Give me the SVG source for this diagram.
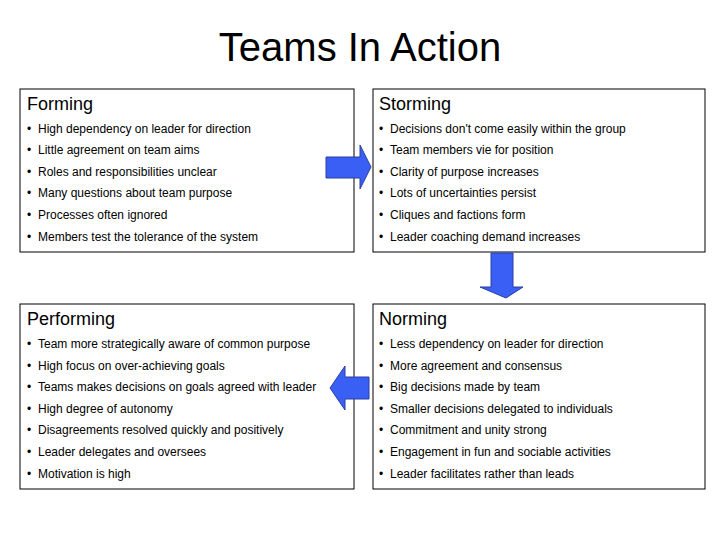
<svg xmlns="http://www.w3.org/2000/svg" width="720" height="540" viewBox="0 0 720 540">
<style>
.box{fill:#fff;stroke:#000;stroke-width:1}
.h{font-family:"Liberation Sans",Arial,sans-serif;font-size:18px;fill:#000}
.t{font-family:"Liberation Sans",Arial,sans-serif;font-size:12px;fill:#000}
.ar{fill:#3a5ff5;stroke:#2a3fa0;stroke-width:1}
</style>
<rect width="720" height="540" fill="#fff"/>
<text x="360" y="61" text-anchor="middle" font-family="Liberation Sans,Arial,sans-serif" font-size="40">Teams In Action</text>
<g id="forming">
<rect class="box" x="20" y="89" width="334" height="163"/>
<text class="h" x="27" y="110">Forming</text>
<text class="t" y="133"><tspan x="27">•</tspan><tspan x="38">High dependency on leader for direction</tspan></text>
<text class="t" y="154"><tspan x="27">•</tspan><tspan x="38">Little agreement on team aims</tspan></text>
<text class="t" y="176"><tspan x="27">•</tspan><tspan x="38">Roles and responsibilities unclear</tspan></text>
<text class="t" y="197"><tspan x="27">•</tspan><tspan x="38">Many questions about team purpose</tspan></text>
<text class="t" y="219"><tspan x="27">•</tspan><tspan x="38">Processes often ignored</tspan></text>
<text class="t" y="241"><tspan x="27">•</tspan><tspan x="38">Members test the tolerance of the system</tspan></text>
</g>
<g id="storming">
<rect class="box" x="373" y="89" width="332" height="163"/>
<text class="h" x="379" y="110">Storming</text>
<text class="t" y="133"><tspan x="379">•</tspan><tspan x="390">Decisions don't come easily within the group</tspan></text>
<text class="t" y="154"><tspan x="379">•</tspan><tspan x="390">Team members vie for position</tspan></text>
<text class="t" y="176"><tspan x="379">•</tspan><tspan x="390">Clarity of purpose increases</tspan></text>
<text class="t" y="197"><tspan x="379">•</tspan><tspan x="390">Lots of uncertainties persist</tspan></text>
<text class="t" y="219"><tspan x="379">•</tspan><tspan x="390">Cliques and factions form</tspan></text>
<text class="t" y="241"><tspan x="379">•</tspan><tspan x="390">Leader coaching demand increases</tspan></text>
</g>
<g id="performing">
<rect class="box" x="20" y="304" width="334" height="185"/>
<text class="h" x="27" y="325">Performing</text>
<text class="t" y="348"><tspan x="27">•</tspan><tspan x="38">Team more strategically aware of common purpose</tspan></text>
<text class="t" y="370"><tspan x="27">•</tspan><tspan x="38">High focus on over-achieving goals</tspan></text>
<text class="t" y="391"><tspan x="27">•</tspan><tspan x="38">Teams makes decisions on goals agreed with leader</tspan></text>
<text class="t" y="413"><tspan x="27">•</tspan><tspan x="38">High degree of autonomy</tspan></text>
<text class="t" y="434"><tspan x="27">•</tspan><tspan x="38">Disagreements resolved quickly and positively</tspan></text>
<text class="t" y="456"><tspan x="27">•</tspan><tspan x="38">Leader delegates and oversees</tspan></text>
<text class="t" y="478"><tspan x="27">•</tspan><tspan x="38">Motivation is high</tspan></text>
</g>
<g id="norming">
<rect class="box" x="373" y="304" width="332" height="185"/>
<text class="h" x="379" y="325">Norming</text>
<text class="t" y="348"><tspan x="379">•</tspan><tspan x="390">Less dependency on leader for direction</tspan></text>
<text class="t" y="370"><tspan x="379">•</tspan><tspan x="390">More agreement and consensus</tspan></text>
<text class="t" y="391"><tspan x="379">•</tspan><tspan x="390">Big decisions made by team</tspan></text>
<text class="t" y="413"><tspan x="379">•</tspan><tspan x="390">Smaller decisions delegated to individuals</tspan></text>
<text class="t" y="434"><tspan x="379">•</tspan><tspan x="390">Commitment and unity strong</tspan></text>
<text class="t" y="456"><tspan x="379">•</tspan><tspan x="390">Engagement in fun and sociable activities</tspan></text>
<text class="t" y="478"><tspan x="379">•</tspan><tspan x="390">Leader facilitates rather than leads</tspan></text>
</g>
<g id="connectors">
<polygon class="ar" points="326,157 360,157 360,145 371,167 360,189 360,178 326,178"/>
<polygon class="ar" points="491,253 513,253 513,287 523,287 506,298 480,287 491,287"/>
<polygon class="ar" points="369,377 345,377 345,366 330,388 345,410 345,399 369,399"/>
</g>
</svg>
